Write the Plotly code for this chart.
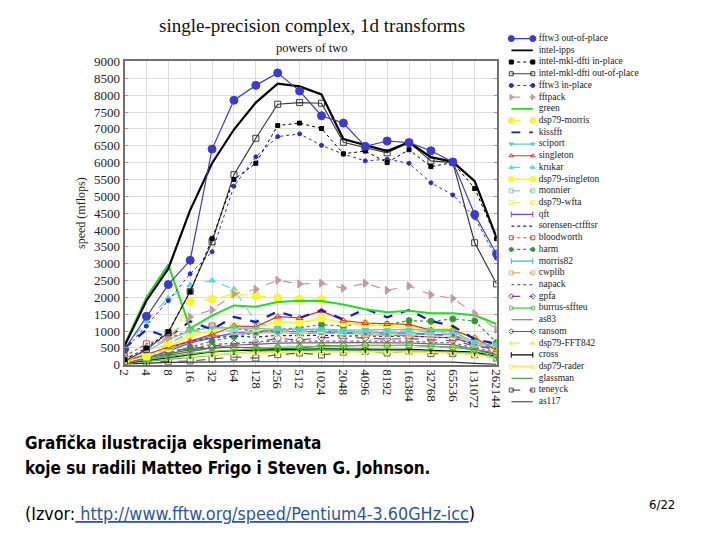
import plotly.graph_objects as go

sizes = ["2", "4", "8", "16", "32", "64", "128", "256", "512", "1024", "2048",
         "4096", "8192", "16384", "32768", "65536", "131072", "262144"]

fftw3_out = [460, 1440, 2380, 3100, 6400, 7850, 8290, 8660, 8120, 7390, 7170, 6480, 6640, 6590, 6350, 6020, 4460, 3290]
intel_ipps = [560, 1900, 2850, 4590, 5980, 6980, 7780, 8340, 8260, 8020, 6700, 6510, 6340, 6600, 6160, 6020, 5450, 3770]
mkl_in = [150, 500, 980, 2170, 3740, 5500, 5980, 7100, 7170, 7010, 6260, 6340, 6000, 6380, 5880, 6000, 5230, 3740]
mkl_out = [100, 450, 950, 2180, 3650, 5640, 6720, 7730, 7780, 7760, 6600, 6450, 6290, 6600, 6050, 6000, 3620, 2400]
fftw3_in = [430, 1150, 1900, 2700, 3350, 5300, 6170, 6770, 6850, 6510, 6250, 6050, 6100, 5980, 5400, 5040, 4370, 3160]
fftpack = [200, 450, 800, 1420, 1630, 2100, 2240, 2510, 2400, 2420, 2270, 2420, 2210, 2340, 2080, 1970, 1520, 1050]
green = [600, 2000, 2970, 1080, 1460, 1760, 1720, 1860, 1900, 1890, 1790, 1650, 1560, 1600, 1530, 1530, 1470, 1210]
dsp79_morris = [120, 300, 650, 1870, 1950, 2100, 2050, 1990, 1950, 1940, None, None, None, None, None, None, None, None]
kissfft = [490, 1040, 820, 1290, 1050, 1420, 1270, 1580, 1390, 1625, 1350, 1660, 1410, 1625, 1300, 1150, 760, 620]
sciport = [150, 400, 750, 1000, 1100, 1100, 1080, 1050, 1050, 1060, 1030, 1040, 1030, 1050, 1020, 1000, 660, 570]
singleton = [100, 320, 520, 700, 900, 1150, 1130, 1430, 1390, 1600, 1310, 1240, 1210, 1200, 1030, 1030, 800, 430]
krukar = [450, 1300, 1980, 2370, 2500, 2240, 1270, 1060, 1050, 1030, 1000, 1000, 990, 1000, 980, 970, 700, 600]
dsp79_singleton = [100, 250, 500, 900, 1000, 1150, 1100, 1270, 1250, 1390, 1250, 1200, 1150, 1080, 1050, 1070, 750, 450]
monnier = [120, 350, 600, 950, 1050, 1000, 950, 1000, 980, 1000, 950, 960, 940, 960, 920, 900, 650, 550]
dsp79_wfta = [80, 250, 540, 850, 950, 1000, 950, 950, 930, 960, 900, 920, 900, 920, 880, 870, 620, 500]
qft = [60, 200, 400, 650, 800, 950, 980, 980, 960, 980, 950, 960, 940, 950, 900, 890, 620, 480]
sorensen = [100, 280, 500, 700, 800, 850, 820, 870, 860, 880, 850, 860, 840, 860, 820, 800, 600, 480]
bloodworth = [250, 620, 790, 1020, 1150, 1080, 1000, 1010, 990, 1010, 960, 900, 880, 860, 820, 800, 620, 480]
harm = [80, 250, 350, 520, 700, 840, 950, 1050, 1100, 1190, 1150, 1240, 1200, 1310, 1290, 1360, 1300, 660]
morris82 = [100, 300, 450, 700, 850, 900, 950, 950, 920, 950, 920, 930, 900, 920, 880, 860, 600, 520]
cwplib = [120, 350, 600, 1000, 1100, 1100, 1000, 1050, 1000, 1000, 980, 1000, 980, 1000, 950, 930, 650, 520]
napack = [60, 180, 350, 500, 600, 650, 680, 700, 700, 710, 690, 700, 690, 700, 670, 650, 500, 400]
gpfa = [80, 250, 400, 480, 550, 620, 660, 790, 730, 810, 790, 800, 760, 780, 740, 720, 560, 450]
burrus = [60, 150, 250, 330, 400, 450, 480, 520, 540, 560, 560, 570, 570, 580, 550, 520, 480, 180]
as83 = [50, 150, 280, 400, 500, 580, 620, 640, 650, 660, 650, 660, 650, 650, 620, 600, 450, 350]
ransom = [70, 200, 320, 450, 500, 520, 500, 480, 490, 570, 560, 580, 570, 580, 550, 520, 450, 300]
dsp79_fft842 = [60, 180, 300, 400, 480, 520, 550, 580, 560, 600, 580, 590, 570, 580, 550, 520, 420, 300]
cross = [40, 120, 200, 300, 380, 420, 440, 460, 460, 470, 460, 470, 460, 460, 440, 420, 380, 250]
dsp79_rader = [50, 130, 200, 250, 300, 340, 360, 380, 380, 390, 380, 390, 380, 380, 370, 350, 300, 200]
glassman = [40, 100, 170, 220, 300, 350, 400, 420, 420, 430, 420, 430, 420, 420, 400, 380, 340, 220]
teneyck = [30, 80, 100, 110, 170, 230, 200, 300, 350, 290, 375, 400, 350, 400, 330, 330, 300, 200]
as117 = [20, 50, 70, 80, 90, 90, 90, 90, 90, 90, 90, 90, 90, 90, 85, 80, 40, 10]

# name, values, color, line width, dash, marker symbol, marker size
series = [
    ("fftw3 out-of-place", fftw3_out, "#3a3ad6", 1.2, "solid", "circle", 8),
    ("intel-ipps", intel_ipps, "#000000", 2.2, "solid", None, 0),
    ("intel-mkl-dfti in-place", mkl_in, "#000000", 1, "dot", "square", 4),
    ("intel-mkl-dfti out-of-place", mkl_out, "#3a3a3a", 1.2, "solid", "square-open", 6),
    ("fftw3 in-place", fftw3_in, "#2b2bd0", 1, "dot", "circle", 4),
    ("fftpack", fftpack, "#c49b9b", 1.2, "dash", "triangle-right", 7),
    ("green", green, "#22dd22", 2, "solid", None, 0),
    ("dsp79-morris", dsp79_morris, "#f6f633", 1.4, "dash", "circle", 8),
    ("kissfft", kissfft, "#1818c8", 2.2, "dash", None, 0),
    ("sciport", sciport, "#55cccc", 1.2, "solid", "triangle-down", 5),
    ("singleton", singleton, "#dd3333", 1.2, "solid", "triangle-up-open", 6),
    ("krukar", krukar, "#55dddd", 1.2, "dash", "triangle-up", 6),
    ("dsp79-singleton", dsp79_singleton, "#f8f840", 2, "solid", "circle", 8),
    ("monnier", monnier, "#88cccc", 1.2, "dash", "square-open", 6),
    ("dsp79-wfta", dsp79_wfta, "#eeee77", 1.2, "dash", "square-open", 6),
    ("qft", qft, "#8844cc", 1.2, "solid", "line-ns-open", 6),
    ("sorensen-ctfftsr", sorensen, "#222288", 1.2, "dot", None, 0),
    ("bloodworth", bloodworth, "#dd4444", 1.2, "dot", "square-open", 6),
    ("harm", harm, "#339933", 1.2, "dot", "circle", 6),
    ("morris82", morris82, "#33bbbb", 1.2, "solid", "line-ns-open", 6),
    ("cwplib", cwplib, "#e0b070", 1.2, "dash", "square-open", 6),
    ("napack", napack, "#448866", 1.2, "dot", None, 0),
    ("gpfa", gpfa, "#884488", 1.2, "dash", "diamond-open", 6),
    ("burrus-sffteu", burrus, "#44cc44", 1.2, "solid", "circle-open", 6),
    ("as83", as83, "#885588", 1.2, "solid", None, 0),
    ("ransom", ransom, "#228822", 1.2, "solid", "diamond-open", 6),
    ("dsp79-FFT842", dsp79_fft842, "#eeee66", 1.2, "dash", "triangle-up", 6),
    ("cross", cross, "#000000", 1.2, "solid", "line-ns-open", 6),
    ("dsp79-rader", dsp79_rader, "#eeee55", 1.6, "solid", "circle-open", 6),
    ("glassman", glassman, "#55aa55", 1.2, "solid", None, 0),
    ("teneyck", teneyck, "#555555", 1.2, "dash", "square-open", 6),
    ("as117", as117, "#333333", 1.2, "solid", None, 0),
]

fig = go.Figure()

# draw in reverse so the first-listed series are on top
for name, vals, color, lw, dash, sym, ms in reversed(series):
    mode = "lines+markers" if sym else "lines"
    tr = dict(x=sizes, y=vals, name=name, mode=mode,
              line=dict(color=color, width=lw, dash=dash),
              connectgaps=False, showlegend=False, xaxis="x", yaxis="y")
    if sym:
        tr["marker"] = dict(symbol=sym, size=ms, color=color,
                            line=dict(color=color, width=1))
    fig.add_trace(go.Scatter(**tr))

W, H = 720, 540
# compact legend geometry (pixels)
leg_x0, leg_x1, leg_text, leg_right = 515, 537, 543, 560
row0, row_gap = 32.5, 12.05

# custom compact legend drawn on an auxiliary axis pair (x2: 0..1 = sample line)
names = [s[0] for s in series]
for i, (name, vals, color, lw, dash, sym, ms) in enumerate(series):
    mode = "lines+markers" if sym else "lines"
    tr = dict(x=[0, 1], y=[i, i], mode=mode,
              line=dict(color=color, width=min(lw, 1.8), dash=dash),
              showlegend=False, hoverinfo="skip", xaxis="x2", yaxis="y2",
              cliponaxis=False)
    if sym:
        tr["marker"] = dict(symbol=sym, size=max(4, ms - 2), color=color,
                            line=dict(color=color, width=1))
    fig.add_trace(go.Scatter(**tr))
span = leg_x1 - leg_x0
text_u = (leg_text - leg_x0) / span
right_u = (leg_right - leg_x0) / span
fig.add_trace(go.Scatter(x=[text_u] * len(names), y=list(range(len(names))), text=names,
                         mode="text", textposition="middle right", cliponaxis=False,
                         textfont=dict(family="Liberation Serif", size=9.5, color="#222222"),
                         showlegend=False, hoverinfo="skip", xaxis="x2", yaxis="y2"))

y2_top = (0 - row0) / row_gap
y2_bot = (H - row0) / row_gap

serif = "Liberation Serif, Times New Roman, serif"
narrow = "Liberation Sans Narrow, Arial Narrow, DejaVu Sans Condensed, sans-serif"
fig.update_layout(
    width=W, height=H,
    margin=dict(l=0, r=0, t=0, b=0),
    paper_bgcolor="white", plot_bgcolor="white",
    showlegend=False,
    font=dict(family=serif, size=12, color="#222222"),
    xaxis=dict(domain=[120 / W, 500 / W], type="category", range=[0, 17],
               tickangle=90, tickfont=dict(family=serif, size=13, color="#222222"),
               showgrid=True, gridcolor="#dedede", gridwidth=1,
               showline=True, linecolor="#707070", linewidth=2, mirror=True,
               ticks="", zeroline=False, anchor="y"),
    yaxis=dict(domain=[1 - 368 / H, 1 - 56 / H], range=[0, 9000],
               tickmode="array", tickvals=list(range(0, 9001, 500)),
               tickfont=dict(family=serif, size=13, color="#222222"),
               showgrid=True, gridcolor="#dedede", gridwidth=1,
               showline=True, linecolor="#707070", linewidth=2, mirror="allticks",
               ticks="inside", ticklen=3, tickcolor="#999999",
               zeroline=False, anchor="x",
               title=dict(text="speed (mflops)", font=dict(family=serif, size=12, color="#222222"),
                          standoff=6)),
    xaxis2=dict(domain=[leg_x0 / W, leg_right / W], range=[0, right_u], visible=False,
                anchor="y2", fixedrange=True),
    yaxis2=dict(domain=[0, 1], range=[y2_bot, y2_top], visible=False,
                anchor="x2", fixedrange=True),
)

ann = [
    dict(text="single-precision complex, 1d transforms", x=311 / W, y=1 - 19 / H,
         font=dict(family=serif, size=19, color="#111111")),
    dict(text="powers of two", x=311 / W, y=1 - 42 / H,
         font=dict(family=serif, size=12.5, color="#111111")),
    dict(text="<b>Grafička ilustracija eksperimenata</b>", x=16 / W, y=1 - 448 / H, xanchor="left",
         font=dict(family=narrow, size=17, color="#000000")),
    dict(text="<b>koje su radili Matteo Frigo i Steven G. Johnson.</b>", x=16 / W, y=1 - 474 / H,
         xanchor="left", font=dict(family=narrow, size=17, color="#000000")),
    dict(text="(Izvor:<span style='color:#2a55a8'><u> http://www.fftw.org/speed/Pentium4-3.60GHz-icc</u></span>)",
         x=16 / W, y=1 - 521 / H, xanchor="left",
         font=dict(family=narrow, size=17.8, color="#000000")),
    dict(text="6/22", x=669 / W, y=1 - 512 / H,
         font=dict(family=narrow, size=13, color="#000000")),
]
for a in ann:
    a.update(xref="paper", yref="paper", showarrow=False, yanchor="middle")
    a.setdefault("xanchor", "center")
fig.update_layout(annotations=ann)

fig.write_html("out.html")
